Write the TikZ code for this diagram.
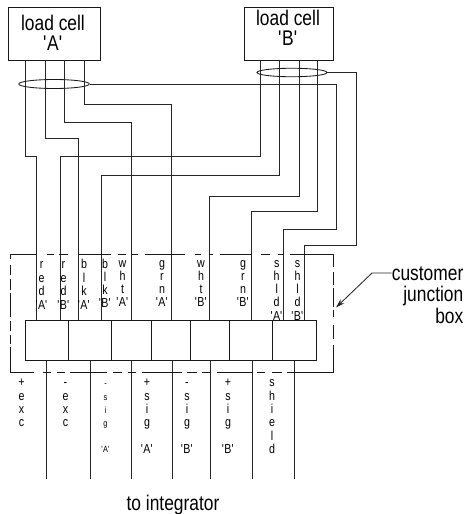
\documentclass[tikz,border=0pt]{standalone}
\usepackage{fontspec}
\setmainfont[FakeStretch=0.82]{Liberation Sans}
\usetikzlibrary{shapes.geometric,arrows.meta}
\newcommand{\qA}{\textquotesingle A\textquotesingle}
\newcommand{\qB}{\textquotesingle B\textquotesingle}
\newcommand{\vlabel}[3]{\foreach \t/\y [count=\i] in {#3}{\node[stackl] (#1-\i) at (#2,\y) {\t};}}
\newcommand{\vsmall}[3]{\foreach \t/\y [count=\i] in {#3}{\node[stackl,font=\fontsize{9}{9}\selectfont] (#1-\i) at (#2,\y) {\t};}}
\tikzset{
  wire/.style={line width=0.85pt,black!85},
  cell/.style={draw,line width=0.85pt,rectangle,inner sep=0pt,black!90},
  shieldring/.style={draw,ellipse,line width=0.85pt,inner sep=0pt,black!90},
  bigt/.style={font=\fontsize{21.2}{24}\selectfont,inner sep=0pt,anchor=base},
  stackl/.style={font=\fontsize{13}{14}\selectfont,inner sep=0pt,anchor=base},
  boxline/.style={line width=0.95pt,black!90},
}
\begin{document}
\begin{tikzpicture}[x=1pt,y=-1pt]
\useasboundingbox (0,0) rectangle (465,514);
\fill[white] (0,0) rectangle (465,514);
% load cells
\node[cell,minimum width=91.5pt,minimum height=53pt] (cellA) at (54.25,33.5) {};
\node[cell,minimum width=88.5pt,minimum height=53.5pt] (cellB) at (288.75,33.75) {};
\node[bigt] (cellAt1) at (53,30.7) {load cell};
\node[bigt] (cellAt2) at (53,50.7) {\qA};
\node[bigt] (cellBt1) at (288,25) {load cell};
\node[bigt] (cellBt2) at (288,45) {\qB};
% shield rings
\node[shieldring,minimum width=70.5pt,minimum height=9pt] (ringA) at (54,84) {};
\node[shieldring,minimum width=70pt,minimum height=8.5pt] (ringB) at (292,72.5) {};
% terminal cells
\foreach \n/\a/\b in {1/25/68,2/68/111.5,3/111.5/151,4/151/190,5/190/229,6/229/272.5,7/272.5/316}{
  \node[cell,minimum width={\b pt-\a pt},minimum height=40pt] (term\n) at ({(\a+\b)/2},340) {};
}
% wire end points
\foreach \n/\x in {a1/25,a2/45,a3/64.5,a4/84}{\coordinate (\n) at (\x,60);}
\foreach \n/\x in {b1/260,b2/279.5,b3/299,b4/317}{\coordinate (\n) at (\x,60.5);}
\foreach \n/\x in {t1/36,t2/60,t3/78,t4/101,t5/131,t6/171,t7/209,t8/251,t9/283.3,t10/304.3}{\coordinate (\n) at (\x,320);}
\foreach \n/\x in {o1/46.7,o2/90,o3/131.3,o4/172,o5/210.3,o6/252.7,o7/294.7}{
  \coordinate (s\n) at (\x,360);
  \coordinate (e\n) at (\x,479);
  \draw[wire] (s\n) -- (e\n);
}
% cable wires
\draw[wire] (a1) |- (36,156.5) -- (t1);
\draw[wire] (a2) |- (78,138) -- (t3);
\draw[wire] (a3) |- (131,122) -- (t5);
\draw[wire] (a4) |- (171,104.5) -- (t6);
\draw[wire] (b1) |- (60,156.5) -- (t2);
\draw[wire] (b2) |- (101,175) -- (t4);
\draw[wire] (b3) |- (209,196.5) -- (t7);
\draw[wire] (b4) |- (251,211.5) -- (t8);
\draw[wire] (ringA.east) -| (336,229.5) -| (t9);
\draw[wire] (ringB.east) -| (356.5,245.5) -| (t10);
% junction box, broken outline
\foreach \a/\b in {10/36,47/54,59/68,78/111,118/126,132/138,145/185,195/201,209/213,220/252,261/270,278/283,290/333.5}{
  \draw[boxline] (\a,254.5) -- (\b,254.5);}
\foreach \a/\b in {10/34,43/51,57/65,70/107,113/122,128/136,142/182,187/197,202/211,217/253,257/265,272/282,287/333.5}{
  \draw[boxline] (\a,372.5) -- (\b,372.5);}
\foreach \a/\b in {254/259,265/275,279/290,293/317,321/331,335/344,347/373}{
  \draw[boxline] (10,\a) -- (10,\b);}
\foreach \a/\b in {254/267,272/285,288/307,310/317,325/339,345/373}{
  \draw[boxline] (333.5,\a) -- (333.5,\b);}
% top labels
\vlabel{la}{41.7}{r/268.5,e/282.5,d/295.5,\qA/309}
\vlabel{lb}{63.5}{r/268.5,e/282.5,d/295.5,\qB/309}
\vlabel{lc}{84}{b/268.5,l/282,k/295.5,\qA/309}
\vlabel{ld}{105}{b/268,l/281,k/294,\qB/307.5}
\vlabel{le}{122.5}{w/267,h/280.5,t/293.5,\qA/306.5}
\vlabel{lf}{162}{g/267,r/280.5,n/293.5,\qA/306.5}
\vlabel{lg}{201}{w/267,h/280.5,t/293.5,\qB/306.5}
\vlabel{lh}{243}{g/267,r/280.5,n/293.5,\qB/306.5}
\vlabel{li}{276.7}{s/267,h/280.5,l/293.5,d/306.5,\qA/320}
\vlabel{lj}{297.5}{s/267,h/280.5,l/293.5,d/306.5,\qB/320}
% bottom labels
\vlabel{ma}{21.5}{+/386,e/400,x/413,c/426}
\vlabel{mb}{65.5}{-/386,e/400,x/413,c/426}
\vsmall{mc}{105.5}{-/386,s/400,i/413,g/426,\qA/452}
\vlabel{md}{147}{+/386,s/400,i/413,g/426,\qA/453}
\vlabel{me}{187}{-/386,s/400,i/413,g/426,\qB/453}
\vlabel{mf}{228}{+/386,s/400,i/413,g/426,\qB/453}
\vlabel{mg}{272}{s/386,h/400,i/413,e/426,l/440,d/453}
% right labels
\node[bigt,anchor=base east] (custA) at (463.5,280.7) {customer};
\node[bigt,anchor=base east] (custB) at (463.5,301.7) {junction};
\node[bigt,anchor=base east] (custC) at (463.5,323) {box};
\coordinate (boxpoint) at (336,307.5);
\draw[wire,-{Stealth[length=9pt,width=5.5pt]}] (custA.west |- 0,273) -- (372,273) -- (boxpoint);
% integrator
\node[bigt] (integ) at (173,510) {to integrator};
\end{tikzpicture}
\end{document}
